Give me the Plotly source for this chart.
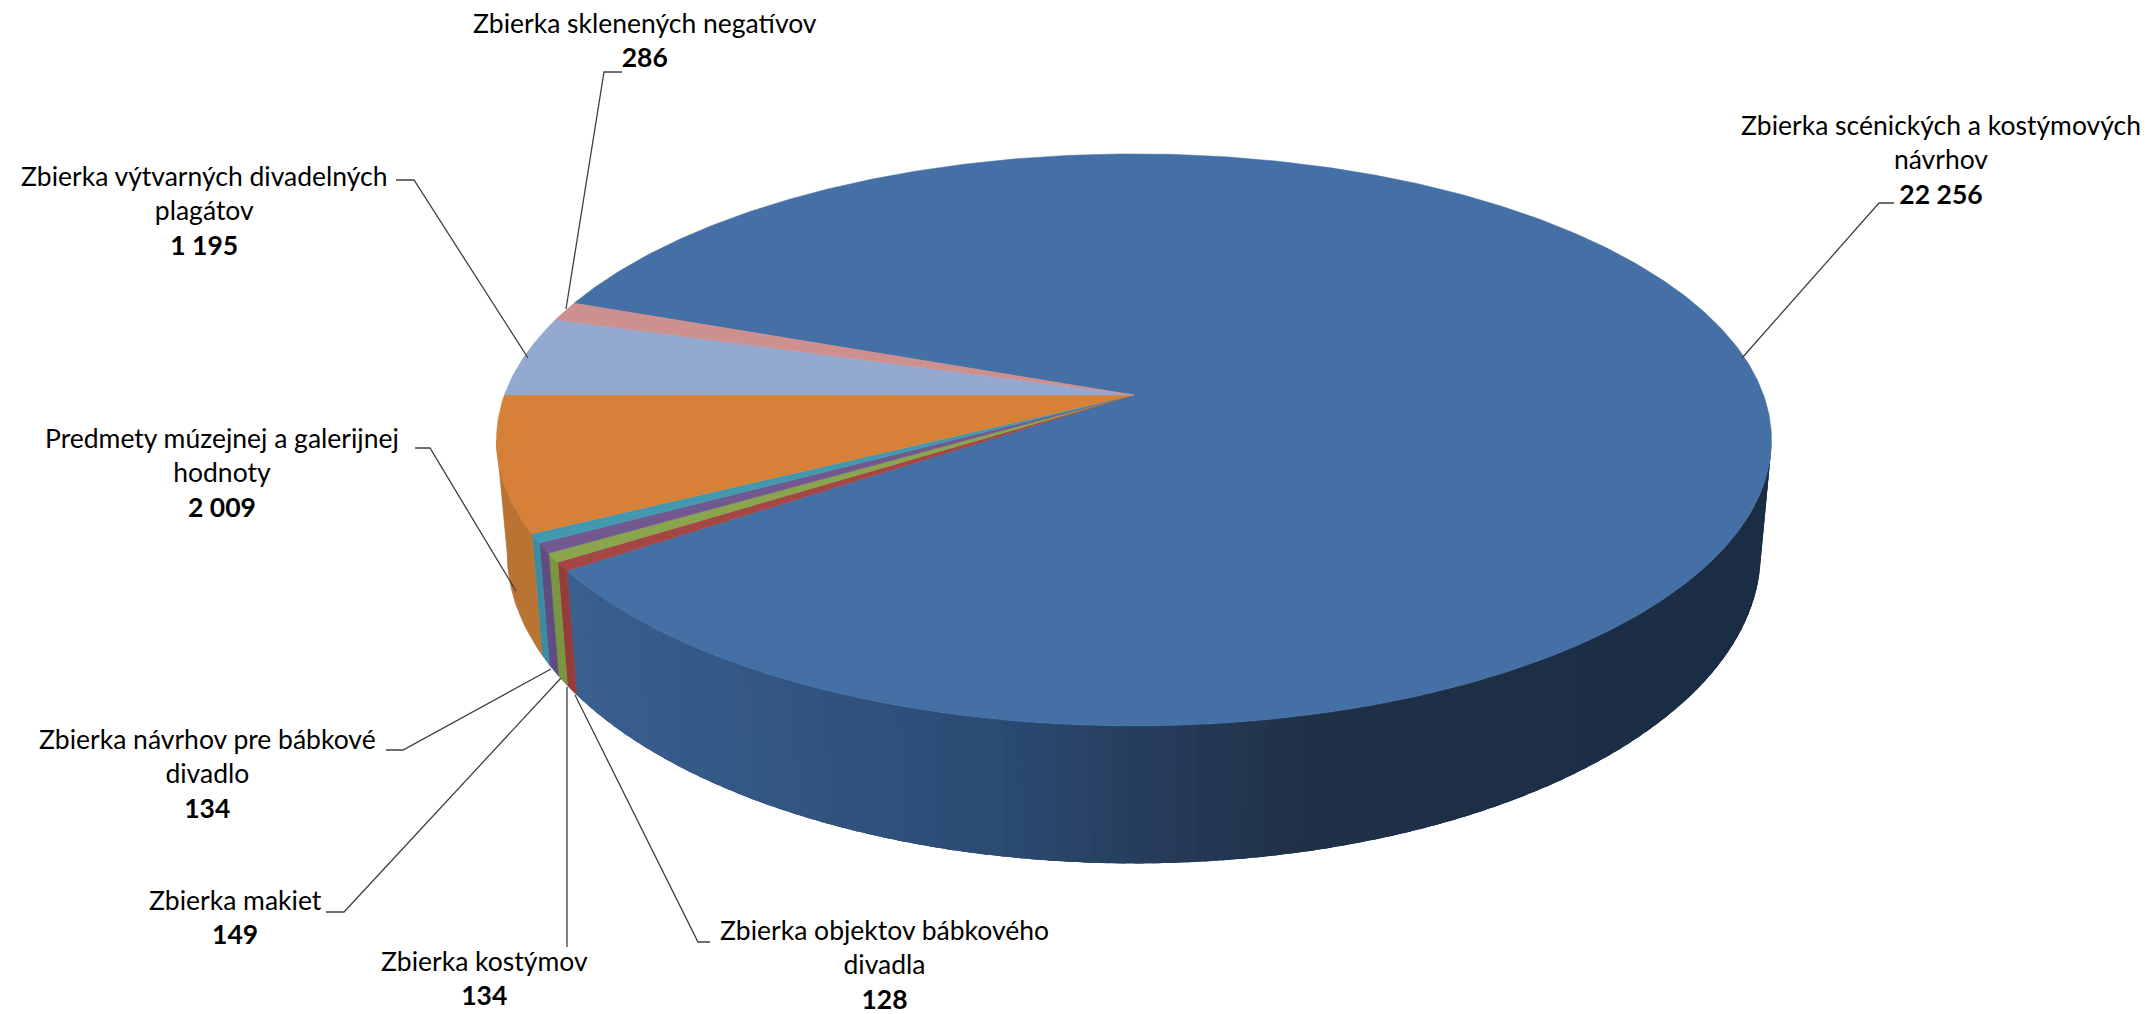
import numpy as np
import plotly.graph_objects as go

# ---- data (clockwise from the first slice) ----
categories = [
    "Zbierka scénických a kostýmových<br>návrhov",
    "Zbierka objektov bábkového<br>divadla",
    "Zbierka kostýmov",
    "Zbierka makiet",
    "Zbierka návrhov pre bábkové<br>divadlo",
    "Predmety múzejnej a galerijnej<br>hodnoty",
    "Zbierka výtvarných divadelných<br>plagátov",
    "Zbierka sklenených negatívov",
]
values = [22256, 128, 134, 149, 134, 2009, 1195, 286]
top_colors = ["#4570A6", "#A54644", "#89A54E", "#71588F", "#4198AF", "#D68038", "#93A9CF", "#CE8F8F"]
side_colors = ["#3A6090", "#953C3A", "#7A9640", "#5F4C80", "#3A8CA3", "#B97333", "#93A9CF", "#CE8F8F"]

# ---- label layout (pixel space of the page) ----
label_pos = [(1941, 159), (884, 964), (484, 978), (235, 917), (207, 773), (222, 472), (204, 210), (645, 40)]
leader_elbow = [(1879, 203), (698, 942), (567, 947), (344, 912), (403, 750), (430, 448), (414, 180), (604, 72)]
leader_end = [(1894, 203), (710, 942), (567, 947), (326, 912), (386, 750), (415, 448), (396, 180), (622, 72)]
leader_root = [(1742, 358), (575, 695), (567, 687), (561, 678), (551, 669), (516, 591), (528, 358), (566, 309)]

# ---- projection of the 3D pie ----
W, H = 2156, 1014
CX = 1134
TOP = dict(a=629.6, b=279.0, k=0.157, y0=395.0)
BOT = dict(a=619.0, b=303.0, k=0.157, y0=504.0)
FIRST_ANGLE = 290.3  # clockwise from 12 o'clock
TANGENT_L, TANGENT_R = 261.0, 99.0
GRAD_X = [575, 1000, 1150, 1300, 1770]
GRAD_RGB = [(58, 96, 144), (43, 75, 115), (38, 61, 92), (32, 50, 72), (26, 45, 69)]


def rim(theta_deg, p):
    t = np.radians(theta_deg)
    w = 1 + p["k"] * np.cos(t)
    return CX + p["a"] * np.sin(t) / w, p["y0"] - p["b"] * np.cos(t) / w


def poly(fig, x, y, color, lw=0.8):
    fig.add_trace(go.Scatter(x=list(x), y=list(y), mode="lines", fill="toself", fillcolor=color,
                             line=dict(color=color, width=lw), hoverinfo="skip", showlegend=False))


total = sum(values)
spans = [v / total * 360 for v in values]
starts = [(FIRST_ANGLE + sum(spans[:i])) % 360 for i in range(len(values))]

fig = go.Figure()

# sides: slices run clockwise, only the front arc between the tangents shows
for i, (s, d) in enumerate(zip(starts, spans)):
    a0, a1 = s, s + d
    if i == 0:
        lo, hi = TANGENT_R + 360, a1
        edges = np.linspace(lo, hi, 101)
        step = edges[1] - edges[0]
        for e0 in edges[:-1]:
            # every strip runs on under the next one, so no seam shows
            th = np.linspace(e0, min(e0 + 2.5 * step, hi), 5)
            tx, ty = rim(th, TOP)
            bx, by = rim(th[::-1], BOT)
            xm = rim(e0 + step / 2, TOP)[0]
            rgb = [np.interp(xm, GRAD_X, [c[j] for c in GRAD_RGB]) for j in range(3)]
            poly(fig, np.r_[tx, bx, tx[0]], np.r_[ty, by, ty[0]], "rgb(%d,%d,%d)" % tuple(rgb), lw=0)
    else:
        lo, hi = a0, min(a1, TANGENT_L)
        if hi <= lo or lo > TANGENT_L:
            continue
        th = np.linspace(lo, hi, 24)
        tx, ty = rim(th, TOP)
        bx, by = rim(th[::-1], BOT)
        poly(fig, np.r_[tx, bx, tx[0]], np.r_[ty, by, ty[0]], side_colors[i])

# top faces
for i, (s, d) in enumerate(zip(starts, spans)):
    th = np.linspace(s, s + d, max(4, int(d * 2)))
    tx, ty = rim(th, TOP)
    poly(fig, np.r_[CX, tx, CX], np.r_[TOP["y0"], ty, TOP["y0"]], top_colors[i], lw=0.5)

# leader lines
for root, elbow, end in zip(leader_root, leader_elbow, leader_end):
    fig.add_trace(go.Scatter(x=[root[0], elbow[0], end[0]], y=[root[1], elbow[1], end[1]], mode="lines",
                             line=dict(color="#404040", width=1.3), hoverinfo="skip", showlegend=False))

# labels
for name, v, (lx, ly) in zip(categories, values, label_pos):
    val = f"{v:,}".replace(",", " ")
    fig.add_annotation(x=lx, y=ly, xref="x", yref="y", text=f"{name}<br><b>{val}</b>", showarrow=False,
                       align="center", xanchor="center", yanchor="middle",
                       font=dict(family="Lato", size=26.5, color="#000000"))

fig.update_layout(
    width=W, height=H, margin=dict(l=0, r=0, t=0, b=0), paper_bgcolor="#ffffff", plot_bgcolor="#ffffff",
    xaxis=dict(range=[0, W], visible=False, fixedrange=True),
    yaxis=dict(range=[H, 0], visible=False, fixedrange=True),
    showlegend=False,
)
fig.write_html("out.html", post_script="document.body.style.margin='0';document.body.style.overflow='hidden';",
               config=dict(displayModeBar=False))
